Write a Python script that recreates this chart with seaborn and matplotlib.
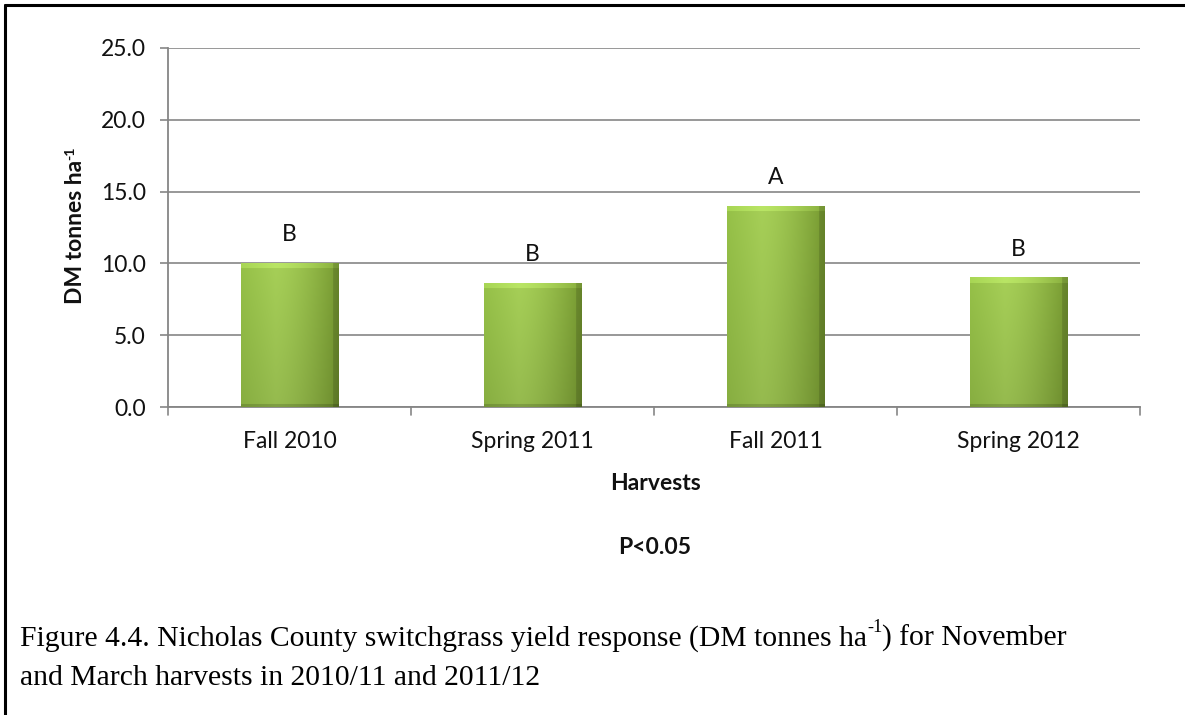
import numpy as np
import pandas as pd
import matplotlib
matplotlib.use("Agg")
import matplotlib.pyplot as plt
from matplotlib.colors import to_rgb
from matplotlib.text import Annotation
import seaborn as sns

# Harvest yields (DM tonnes per hectare) and mean-separation letters
harvests = ["Fall 2010", "Spring 2011", "Fall 2011", "Spring 2012"]
yields = [10.05, 8.65, 14.0, 9.05]
letters = ["B", "B", "A", "B"]
y_ticks = [0.0, 5.0, 10.0, 15.0, 20.0, 25.0]

df = pd.DataFrame({"Harvest": harvests, "Yield": yields})

sns.set_theme(style="white")
plt.rcParams["font.family"] = ["Lato", "DejaVu Sans"]

W, H = 1185, 715
fig = plt.figure(figsize=(W / 100, H / 100), dpi=100)
ax = fig.add_axes([168 / W, 1 - 407 / H, (1140 - 168) / W, (407 - 48) / H])

grid_col = "#868686"
txt_col = "#111111"
fs = 16.5

sns.barplot(data=df, x="Harvest", y="Yield", color="#8FB943", width=0.4,
            saturation=1, ax=ax, zorder=3, edgecolor="none")

ax.set_ylim(0, 25)
ax.set_xlim(-0.5, len(harvests) - 0.5)
ax.set_yticks(y_ticks)
ax.set_yticklabels([f"{v:.1f}" for v in y_ticks], fontsize=fs, color=txt_col)
ax.set_xticks(range(len(harvests)))
ax.set_xticklabels(harvests, fontsize=fs, color=txt_col)
ax.yaxis.grid(True, color=grid_col, linewidth=1.2, zorder=0)
ax.set_axisbelow(True)
for side in ("top", "right"):
    ax.spines[side].set_visible(False)
for side in ("left", "bottom"):
    ax.spines[side].set_color(grid_col)
    ax.spines[side].set_linewidth(1.3)
ax.tick_params(axis="y", which="major", direction="out", length=6,
               width=1.2, color=grid_col, pad=10, left=True)
ax.tick_params(axis="x", which="major", length=0, pad=17)
# category separator ticks below the x axis
for b in np.arange(-0.5, len(harvests) + 0.5, 1.0):
    ax.plot([b, b], [0, -0.55], color=grid_col, lw=1.2, clip_on=False, zorder=4)

ax.set_xlabel("")
ax.set_ylabel("")

# bevelled gradient fill for each bar
light = np.array(to_rgb("#A6CF57"))
mid = np.array(to_rgb("#96C148"))
dark = np.array(to_rgb("#779A31"))
for p in ax.patches:
    x0, w, h = p.get_x(), p.get_width(), p.get_height()
    nw, nh = 100, max(int(h * 14.4), 10)
    u = np.linspace(0, 1, nw)[None, :, None]
    v = np.linspace(0, 1, nh)[:, None, None]  # 0 = top
    horiz = np.where(u < 0.35, mid + (light - mid) * (u / 0.35),
                     light + (dark - light) * ((u - 0.35) / 0.65) ** 1.5)
    img = horiz * (1 - 0.10 * v)
    img = np.broadcast_to(img, (nh, nw, 3)).copy()
    img[:6, :, :] = np.clip(img[:6, :, :] * 1.07 + 0.03, 0, 1)
    img[:, -6:, :] = img[:, -6:, :] * 0.86
    img[-3:, :, :] = img[-3:, :, :] * 0.85
    im = ax.imshow(img, extent=(x0, x0 + w, 0, h), aspect="auto",
                   origin="upper", zorder=3.5, interpolation="bilinear")
    im.set_clip_path(p)

ax.set_xlim(-0.5, len(harvests) - 0.5)
ax.set_ylim(0, 25)

# letters above bars
for i, (val, lab) in enumerate(zip(yields, letters)):
    ax.annotate(lab, xy=(i, val), xytext=(0, 28), textcoords="offset pixels",
                ha="center", va="center", fontsize=fs, color=txt_col)

# axis titles
ylab = fig.text(75 / W, 1 - 232 / H, "DM tonnes ha", rotation=90,
                ha="center", va="center", fontsize=fs, fontweight="bold",
                color=txt_col)
fig.add_artist(Annotation("-1", xy=(0.0, 1.0), xycoords=ylab, ha="left",
                          va="bottom", rotation=90, fontsize=fs * 0.62,
                          fontweight="bold", color=txt_col))
fig.text(655 / W, 1 - 483 / H, "Harvests", ha="center", va="center",
         fontsize=fs, fontweight="bold", color=txt_col)
fig.text(655 / W, 1 - 548 / H, "P<0.05", ha="center", va="center",
         fontsize=fs, fontweight="bold", color=txt_col)

# caption
serif = ["Liberation Serif", "DejaVu Serif"]
cap_size = 21.3
c1 = fig.text(20 / W, 1 - 646 / H,
              "Figure 4.4. Nicholas County switchgrass yield response (DM tonnes ha",
              ha="left", va="baseline", fontsize=cap_size, family=serif,
              color="black")
sup = fig.add_artist(Annotation(
    "-1", xy=(1.0, 0.62), xycoords=c1, ha="left", va="bottom",
    fontsize=cap_size * 0.62, family=serif, color="black"))
fig.add_artist(Annotation(
    ") for November", xy=(1.0, 0.0), xycoords=(sup, c1), ha="left", va="bottom",
    fontsize=cap_size, family=serif, color="black"))
fig.text(20 / W, 1 - 685 / H, "and March harvests in 2010/11 and 2011/12",
         ha="left", va="baseline", fontsize=cap_size, family=serif, color="black")

# outer frame lines (top and left)
fig.add_artist(plt.Line2D([5 / W, 5 / W], [0, 1 - 5 / H],
                          transform=fig.transFigure, color="black", lw=2.2))
fig.add_artist(plt.Line2D([5 / W, 1], [1 - 5 / H, 1 - 5 / H],
                          transform=fig.transFigure, color="black", lw=2.2))

fig.savefig("out.png", dpi=100, facecolor="white")
